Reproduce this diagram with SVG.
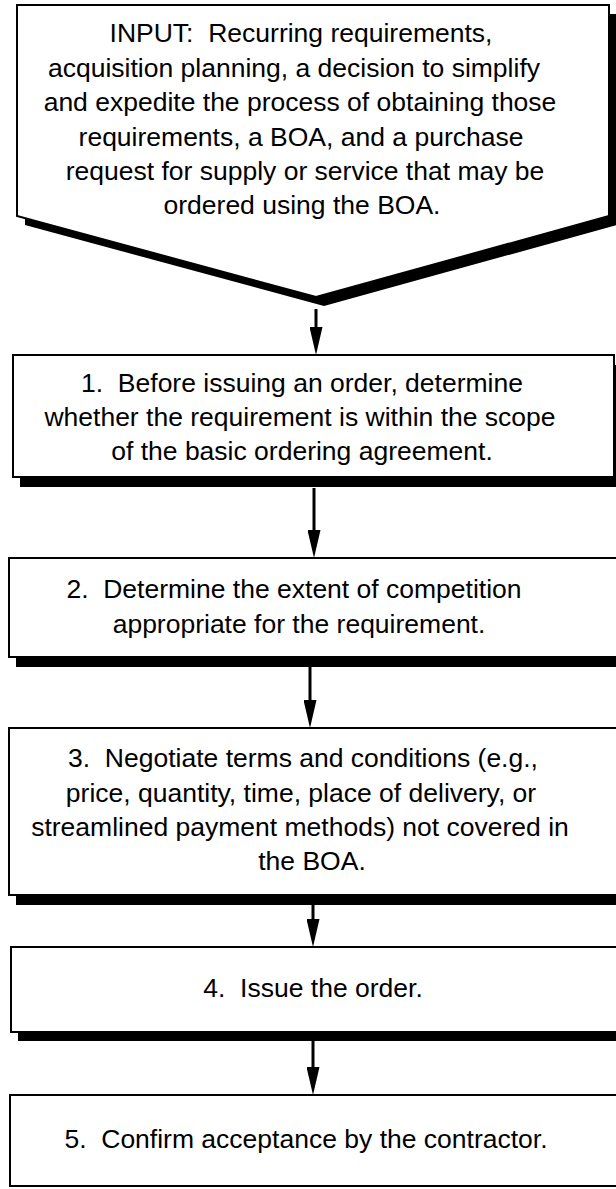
<svg xmlns="http://www.w3.org/2000/svg" width="616" height="1189" viewBox="0 0 616 1189">
<style>
.box{fill:#fff;stroke:#000;stroke-width:2}
.sh{fill:#000;stroke:none}
.t{font-family:"Liberation Sans",Arial,Helvetica,sans-serif;font-size:26.5px;fill:#000;text-anchor:middle;white-space:pre}
.c{stroke:#000;stroke-width:3;fill:none;marker-end:url(#ah)}
</style>
<defs>
<marker id="ah" markerUnits="userSpaceOnUse" markerWidth="28" markerHeight="13" viewBox="0 0 28 13" refX="18" refY="6.5" orient="auto">
<path d="M0,0 L28,6.5 L0,13 Z" fill="#000"/>
</marker>
</defs>
<rect width="616" height="1189" fill="#fff"/>
<g id="connectors">
<line class="c" x1="316" y1="309" x2="316" y2="345"/>
<line class="c" x1="314" y1="488" x2="314" y2="548"/>
<line class="c" x1="310" y1="667" x2="310" y2="718"/>
<line class="c" x1="313" y1="905" x2="313" y2="937"/>
<line class="c" x1="313" y1="1041" x2="313" y2="1085"/>
</g>
<g id="input">
<polygon class="sh" points="25,14 617,14 617,225 324,306 25,225"/>
<polygon class="box" points="17,5 609,5 609,216 316,297 17,216"/>
<text class="t" xml:space="preserve"><tspan x="301" y="42">INPUT:  Recurring requirements,</tspan><tspan x="294" y="76.5">acquisition planning, a decision to simplify</tspan><tspan x="300" y="111">and expedite the process of obtaining those</tspan><tspan x="301" y="145.5">requirements, a BOA, and a purchase</tspan><tspan x="305" y="180">request for supply or service that may be</tspan><tspan x="302" y="214">ordered using the BOA.</tspan></text>
</g>
<g id="step1">
<rect class="sh" x="20" y="365" width="601" height="122"/>
<rect class="box" x="13" y="355" width="601" height="122"/>
<text class="t" xml:space="preserve"><tspan x="302" y="391.5">1.  Before issuing an order, determine</tspan><tspan x="300" y="426">whether the requirement is within the scope</tspan><tspan x="302" y="460">of the basic ordering agreement.</tspan></text>
</g>
<g id="step2">
<rect class="sh" x="16" y="568" width="611" height="99"/>
<rect class="box" x="9" y="558" width="611" height="99"/>
<text class="t" xml:space="preserve"><tspan x="294" y="598">2.  Determine the extent of competition</tspan><tspan x="299" y="632.5">appropriate for the requirement.</tspan></text>
</g>
<g id="step3">
<rect class="sh" x="16" y="738" width="611" height="167"/>
<rect class="box" x="9" y="728" width="611" height="167"/>
<text class="t" xml:space="preserve"><tspan x="303" y="766.5">3.  Negotiate terms and conditions (e.g.,</tspan><tspan x="301" y="801.5">price, quantity, time, place of delivery, or</tspan><tspan x="300" y="835.5">streamlined payment methods) not covered in</tspan><tspan x="312" y="870">the BOA.</tspan></text>
</g>
<g id="step4">
<rect class="sh" x="18" y="956" width="611" height="85"/>
<rect class="box" x="11" y="947" width="611" height="85"/>
<text class="t" xml:space="preserve"><tspan x="313" y="996.5">4.  Issue the order.</tspan></text>
</g>
<g id="step5">
<rect class="box" x="10" y="1095" width="611" height="91"/>
<text class="t" xml:space="preserve"><tspan x="306" y="1148">5.  Confirm acceptance by the contractor.</tspan></text>
</g>
</svg>
